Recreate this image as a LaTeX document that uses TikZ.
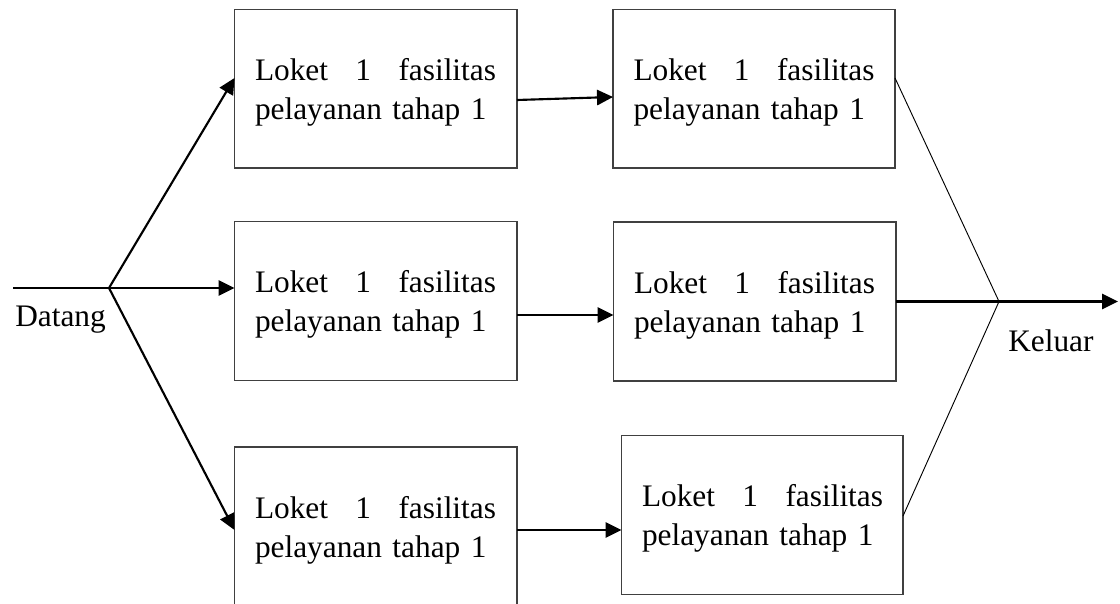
\documentclass[tikz,border=0pt]{standalone}
\usepackage{fontspec}
\setmainfont{Liberation Serif}
\usetikzlibrary{arrows.meta,calc,fit}
\newcommand\loketbox[5]{%
  \node[box, fit={(#2,#3) (#4,#5)}] (#1) {};
  \node[txt] (#1t) at ($(#1.north west)+(20.5,0)$)
    {\rule{0pt}{53.25pt}\hbox to 180.75pt{Loket\hfill 1\hfill fasilitas}\\pelayanan tahap 1};%
}
\begin{document}
\begin{tikzpicture}[x=0.75pt,y=-0.75pt,
  box/.style={draw=black!75, line width=0.8pt, inner sep=0pt, outer sep=0pt},
  txt/.style={anchor=north west, inner sep=0pt, outer sep=0pt, text width=180.75pt, align=left, font=\fontsize{23.5}{29.25}\selectfont},
  lbl/.style={anchor=base west, inner sep=0pt, font=\fontsize{23.5}{29.25}\selectfont},
  arr/.style={line width=1.6pt, -{Triangle[length=12pt,width=11.5pt]}},
  plain/.style={line width=1.6pt},
  thinline/.style={line width=0.7pt}]
\useasboundingbox (0,0) rectangle (1120,603);
\clip (0,0) rectangle (1120,603);
% boxes
\loketbox{a1}{234.5}{9.5}{517}{168}
\loketbox{a2}{613}{9.5}{895}{168}
\loketbox{b1}{234.5}{221.5}{517}{380.5}
\loketbox{b2}{613.5}{222}{896}{381}
\loketbox{c1}{234.5}{447}{517}{612}
\loketbox{c2}{621.5}{435.7}{903}{594.3}
% junctions
\coordinate (in) at (13,288);
\coordinate (j1) at (109,288);
\coordinate (j2) at (999,301.5);
\coordinate (out) at (1118,301.5);
% labels
\node[lbl] (datang) at (15,326) {Datang};
\node[lbl] (keluar) at (1008,351) {Keluar};
% incoming
\draw[plain] (in) -- (j1);
\draw[arr] (j1) -- ($(a1.north west)+(0,68.5)$);
\draw[arr] (j1) -- (b1.west |- j1);
\draw[arr] (j1) -- ($(c1.north west)+(0,83)$);
% stage 1 -> stage 2
\draw[arr] ($(a1.north east)+(0,90.5)$) -- ($(a2.north west)+(0,87.5)$);
\draw[arr] ($(b1.north east)+(0,93.5)$) -- ($(b2.north west)+(0,93)$);
\draw[arr] ($(c1.north east)+(0,83)$) -- ($(c2.north west)+(0,94.3)$);
% outgoing
\draw[thinline] ($(a2.north east)+(0,68.5)$) -- (j2);
\draw[thinline] ($(c2.north east)+(0,80.3)$) -- (j2);
\draw[arr] (b2.east |- j2) -- (out);
\end{tikzpicture}
\end{document}
